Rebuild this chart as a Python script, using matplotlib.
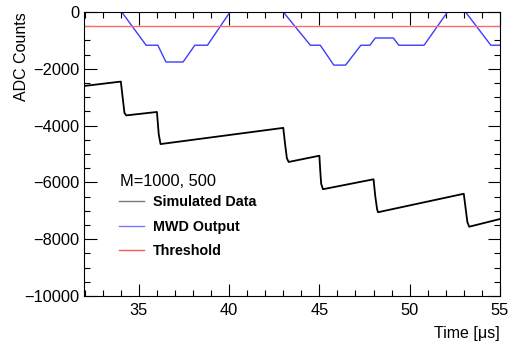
import matplotlib
matplotlib.use("Agg")
import matplotlib.pyplot as plt
from matplotlib.ticker import MultipleLocator
from matplotlib.lines import Line2D

plt.rcParams['font.family'] = ['Liberation Sans', 'DejaVu Sans']

# simulated detector signal (time in us, ADC counts)
sim_t = [31.9, 34.0, 34.1, 34.2, 34.3, 36.0, 36.1, 36.2, 43.0, 43.1, 43.2, 43.3,
         45.0, 45.05, 45.1, 45.2, 48.0, 48.1, 48.2, 48.25, 53.0, 53.1, 53.2, 53.3, 55.0]
sim_y = [-2610, -2450, -3000, -3550, -3640, -3520, -4300, -4650, -4080,
         -4650, -5150, -5280, -5060, -5600, -6050, -6240, -5890, -6500, -6950, -7050,
         -6400, -6900, -7400, -7560, -7290]

# MWD trapezoid output
mwd_t = [31.9, 34.05, 35.4, 36.05, 36.5, 37.45, 38.1, 38.8, 40.05, 43.0, 44.5, 45.05,
         45.8, 46.45, 47.3, 47.8, 48.1, 49.1, 49.4, 50.8, 52.1, 53.1, 54.5, 55.0]
mwd_y = [0, 0, -1170, -1170, -1760, -1760, -1170, -1170, 0, 0, -1170, -1170,
         -1870, -1870, -1170, -1170, -915, -915, -1170, -1170, 0, 0, -1170, -1170]

threshold = -480
legend_header = "M=1000, 500"
legend_labels = ["Simulated Data", "MWD Output", "Threshold"]

fig = plt.figure(figsize=(5.08, 3.43), dpi=100)
ax = fig.add_axes([0.165, 0.137, 0.819, 0.828])

ax.plot(sim_t, sim_y, color="black", lw=1.3)
ax.plot(mwd_t, mwd_y, color="#3c3cff", lw=1.0)
ax.axhline(threshold, color="#ff6a6a", lw=1.0)

ax.set_xlim(31.95, 55)
ax.set_ylim(-10000, 0)
ax.xaxis.set_major_locator(MultipleLocator(5))
ax.xaxis.set_minor_locator(MultipleLocator(1))
ax.yaxis.set_major_locator(MultipleLocator(2000))
ax.yaxis.set_minor_locator(MultipleLocator(500))
ax.tick_params(which="both", direction="in", top=True, right=True, labelsize=11.8)
ax.tick_params(which="major", length=9, width=0.8)
ax.tick_params(which="minor", length=4.5, width=0.8)
ax.tick_params(axis="x", pad=5)
ax.tick_params(axis="y", pad=3)
for s in ax.spines.values():
    s.set_linewidth(0.8)
ax.yaxis.set_major_formatter(plt.FuncFormatter(lambda v, p: f"{int(v)}".replace("-", "\u2212")))

fig.text(0.984, 0.005, "Time [\u03bcs]", ha="right", va="bottom", fontsize=11.5)
fig.text(0.028, 0.965, "ADC Counts", rotation=90, ha="left", va="top", fontsize=11.5)

# legend header drawn separately (ROOT style)
fig.text(120 / 508, 1 - 182 / 343, legend_header, ha="left", va="center", fontsize=11.8)

handles = [Line2D([], [], color="#777777", lw=1.0),
           Line2D([], [], color="#7777ff", lw=1.0),
           Line2D([], [], color="#ff5555", lw=1.0)]
leg = fig.legend(handles, legend_labels, loc="upper left",
                 bbox_to_anchor=(119 / 508, 1 - 195.5 / 343), frameon=False,
                 handlelength=1.75, handletextpad=0.6, labelspacing=0.72,
                 borderpad=0, borderaxespad=0,
                 prop={"weight": "bold", "size": 10.3})

fig.savefig("out.png", dpi=100)
